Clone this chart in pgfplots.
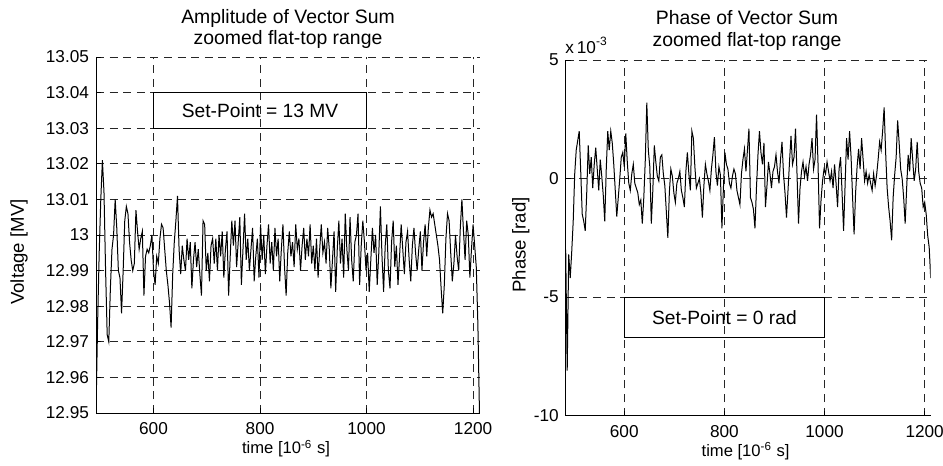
\documentclass[border=0pt]{standalone}
\usepackage{fontspec}
\setmainfont{Liberation Sans}
\usepackage{pgfplots}
\usepackage{pgfplotstable}
\pgfplotsset{compat=1.18}

\pgfplotstableread{
x y
492 12.950
495 12.975
498 12.995
501 13.010
504 13.021
507 13.012
510 12.990
513 12.972
516 12.970
519 12.985
522 12.996
525 13.000
528 13.010
531 13.002
534 12.990
537 12.988
540 12.978
543 12.990
546 13.004
549 13.008
552 13.006
555 12.998
558 12.993
561 12.990
564 12.992
567 13.007
570 13.001
573 12.996
576 12.999
579 13.001
582 12.983
585 12.994
588 12.996
591 12.995
594 12.997
597 13.000
600 12.990
603 12.986
606 12.994
609 12.992
612 12.999
615 13.003
618 13.002
621 12.996
624 12.990
627 12.986
630 12.981
633 12.974
636 12.989
639 12.998
642 13.004
645 13.011
648 12.996
651 12.989
654 12.997
657 12.993
660 12.990
663 12.999
666 12.993
669 12.998
672 12.985
675 12.993
678 12.998
681 12.991
684 12.996
687 12.989
690 12.983
693 13.004
696 13.003
699 12.990
702 12.995
705 12.987
708 12.997
711 12.999
714 12.992
717 12.999
720 12.990
723 13.000
726 12.994
729 13.001
732 12.988
735 12.996
738 13.001
741 12.983
744 12.994
747 13.004
750 12.997
753 13.004
756 12.991
759 12.998
762 13.005
765 12.986
768 12.996
771 13.006
774 12.993
777 12.999
780 12.990
783 12.996
786 13.002
789 12.987
792 12.994
795 12.999
798 12.988
801 13.003
804 12.993
807 13.000
810 12.989
813 12.997
816 13.003
819 12.992
822 12.998
825 12.990
828 13.002
831 12.994
834 12.999
837 12.987
840 12.996
843 13.003
846 12.991
849 12.983
852 12.995
855 13.001
858 12.994
861 12.998
864 12.991
867 13.003
870 12.996
873 12.999
876 12.990
879 12.997
882 13.002
885 12.993
888 12.999
891 12.994
894 13.003
897 12.992
900 12.997
903 12.990
906 12.999
909 12.988
912 12.996
915 13.003
918 12.995
921 12.998
924 12.992
927 13.002
930 12.996
933 12.985
936 12.993
939 13.001
942 12.984
945 12.996
948 13.004
951 12.992
954 12.999
957 12.988
960 13.006
963 12.996
966 12.990
969 13.005
972 12.993
975 12.987
978 12.998
981 13.000
984 13.006
987 12.986
990 12.997
993 13.004
996 12.998
999 12.990
1002 12.995
1005 12.984
1008 12.993
1011 13.002
1014 12.995
1017 13.000
1020 12.986
1023 12.995
1026 13.008
1029 12.994
1032 12.984
1035 12.997
1038 13.003
1041 12.990
1044 12.985
1047 12.998
1050 13.004
1053 12.991
1056 12.997
1059 12.986
1062 12.994
1065 13.003
1068 12.996
1071 12.989
1074 12.998
1077 13.001
1080 12.993
1083 12.987
1086 12.997
1089 13.002
1092 12.995
1095 12.990
1098 12.996
1101 13.001
1104 12.990
1107 12.998
1110 13.003
1113 12.994
1116 13.002
1119 13.007
1122 13.005
1125 13.006
1128 13.003
1131 13.000
1134 12.997
1137 12.993
1140 12.985
1143 12.978
1146 12.986
1149 12.999
1152 13.006
1155 13.004
1158 12.995
1161 12.987
1164 12.992
1167 13.000
1170 12.994
1173 12.990
1176 13.002
1179 13.010
1182 13.001
1185 12.993
1188 13.004
1191 13.000
1194 12.988
1197 12.996
1200 13.003
1203 12.997
1206 12.991
1209 12.975
1212 12.950
}\amplitude

\pgfplotstableread{
x y
483 -3.0
486 -8.1
489 -3.2
492 -4.2
495 -3.1
498 -1.8
501 0.2
504 1.2
507 1.6
510 2.0
513 0.3
516 -1.5
519 -1.8
522 -2.2
525 -0.6
528 1.4
531 0.2
534 0.9
537 -0.4
540 0.6
543 1.3
546 0.4
549 -0.5
552 0.8
555 0.1
558 -0.7
561 -1.8
564 0.4
567 2.0
570 1.2
573 2.0
576 1.5
579 0.6
582 -0.5
585 -1.6
588 -0.8
591 0.0
594 0.9
597 1.1
600 0.5
603 1.9
606 0.7
609 -0.2
612 -0.5
615 0.2
618 0.6
621 -0.2
624 -0.4
627 -0.6
630 -1.1
633 -0.9
636 -1.9
639 -0.8
642 0.8
645 3.2
648 1.2
651 0.5
654 -1.9
657 -0.5
660 1.4
663 0.7
666 0.1
669 -0.1
672 0.9
675 1.0
678 0.2
681 -0.3
684 -1.4
687 -2.5
690 -0.6
693 0.4
696 0.1
699 -0.6
702 -1.0
705 -0.2
708 0.0
711 0.3
714 -0.5
717 -0.8
720 -1.2
723 0.3
726 1.1
729 0.2
732 -0.5
735 2.0
738 1.7
741 0.5
744 -0.4
747 -0.2
750 0.0
753 -0.6
756 -1.65
759 -0.3
762 0.6
765 0.2
768 -0.1
771 -0.5
774 0.4
777 1.0
780 1.75
783 0.3
786 -0.3
789 0.5
792 0.15
795 -2.1
798 -0.4
801 1.1
804 0.6
807 0.4
810 -0.2
813 -0.4
816 0.1
819 0.4
822 0.2
825 -0.5
828 -0.8
831 -1.1
834 0.2
837 0.8
840 1.25
843 0.3
846 1.2
849 2.1
852 -0.8
855 -1.0
858 -1.3
861 -2.1
864 -0.4
867 1.0
870 2.0
873 1.1
876 0.6
879 1.5
882 -1.2
885 -0.3
888 0.7
891 0.2
894 -0.4
897 0.3
900 0.5
903 1.0
906 0.3
909 -0.2
912 0.8
915 1.55
918 0.2
921 -0.6
924 -1.65
927 -0.5
930 0.7
933 1.8
936 0.6
939 0.9
942 2.1
945 0.2
948 -1.9
951 -0.4
954 0.3
957 0.7
960 0.1
963 0.5
966 -0.1
969 0.6
972 1.0
975 1.7
978 0.4
981 0.8
984 2.7
987 0.6
990 -2.1
993 -0.9
996 -0.1
999 0.4
1002 0.2
1005 0.7
1008 0.3
1011 -0.1
1014 0.3
1017 -0.4
1020 0.6
1023 -0.2
1026 -1.2
1029 0.4
1032 0.9
1035 -0.6
1038 -2.2
1041 -0.3
1044 1.7
1047 0.8
1050 2.0
1053 0.9
1056 -0.8
1059 -2.35
1062 -0.6
1065 0.5
1068 1.25
1071 0.4
1074 1.7
1077 0.8
1080 -0.1
1083 0.3
1086 -0.2
1089 0.15
1092 -0.2
1095 -0.5
1098 0.2
1101 -0.3
1104 0.15
1107 0.8
1110 1.55
1113 1.2
1116 2.0
1119 3.0
1122 1.1
1125 -0.4
1128 -1.2
1131 -1.8
1134 -2.6
1137 -0.8
1140 0.15
1143 0.9
1146 2.45
1149 1.5
1152 0.4
1155 0.0
1158 -0.8
1161 -1.9
1164 -0.4
1167 1.0
1170 0.3
1173 1.7
1176 0.8
1179 -0.1
1182 0.4
1185 1.55
1188 0.3
1191 -0.2
1194 -0.4
1197 -1.2
1200 -1.0
1203 -1.5
1206 -2.4
1209 -2.9
1212 -4.2
}\phase

\pgfplotsset{
  mstyle/.style={
    anchor=south west, scale only axis,
    grid=major,
    major grid style={black!85, line width=0.4pt, dash pattern=on 4pt off 2.8pt},
    axis x line*=bottom, axis y line*=left,
    axis line style={black, line width=0.45pt},
    tick align=inside, major tick length=2.5pt,
    tick style={black, line width=0.45pt},
    ticklabel style={font=\fontsize{8.6}{10}\selectfont},
    xticklabel style={yshift=-1.3pt},
    xtick={600,800,1000,1200},
    xticklabels={600,800,1000,1200},
  }
}

\begin{document}
\begin{tikzpicture}
\path[use as bounding box] (0,0) rectangle (471.5pt,233pt);

% Left: amplitude
\begin{axis}[mstyle,
  at={(48pt,26.5pt)}, width=192pt, height=178pt,
  xmin=492, xmax=1213, ymin=12.95, ymax=13.05,
  ytick={12.95,12.96,12.97,12.98,12.99,13,13.01,13.02,13.03,13.04,13.05},
  yticklabels={12.95,12.96,12.97,12.98,12.99,13,13.01,13.02,13.03,13.04,13.05},
]
\addplot[black, line width=0.5pt, mark=none] table[x=x, y=y] {\amplitude};
\addplot[black, line width=0.5pt, mark=none] coordinates {(600,13.03) (1000,13.03) (1000,13.04) (600,13.04)} -- cycle;
\node[font=\fontsize{9.6}{11}\selectfont] at (axis cs:800,13.035) {Set-Point = 13 MV};
\end{axis}

% Right: phase
\begin{axis}[mstyle,
  at={(282.85pt,25.15pt)}, width=182.5pt, height=177.85pt,
  xmin=483, xmax=1212, ymin=-10, ymax=5,
  ytick={-10,-5,0,5},
  yticklabels={-10,-5,0,5},
]
\addplot[black, line width=0.5pt, mark=none] table[x=x, y=y] {\phase};
\addplot[black, line width=0.5pt, mark=none] coordinates {(600,-6.7) (1000,-6.7) (1000,-5) (600,-5)} -- cycle;
\node[font=\fontsize{9.6}{11}\selectfont] at (axis cs:800,-5.85) {Set-Point = 0 rad};
\end{axis}

% Titles
\node[anchor=base, font=\fontsize{9.7}{11}\selectfont] at (144pt,221.3pt) {Amplitude of Vector Sum};
\node[anchor=base, font=\fontsize{9.7}{11}\selectfont] at (144pt,210.8pt) {zoomed flat-top range};
\node[anchor=base, font=\fontsize{9.7}{11}\selectfont] at (373.5pt,220.5pt) {Phase of Vector Sum};
\node[anchor=base, font=\fontsize{9.7}{11}\selectfont] at (373.5pt,209.7pt) {zoomed flat-top range};

% Axis labels
\node[rotate=90, font=\fontsize{9.3}{11}\selectfont] at (9.5pt,107pt) {Voltage [MV]};
\node[rotate=90, font=\fontsize{9.3}{11}\selectfont] at (260.4pt,110.5pt) {Phase [rad]};
\node[anchor=base, font=\fontsize{8.3}{10}\selectfont] at (143pt,6pt) {time [10\textsuperscript{-6} s]};
\node[anchor=base, font=\fontsize{8.3}{10}\selectfont] at (372.8pt,4.7pt) {time [10\textsuperscript{-6} s]};

% exponent
\node[anchor=base west, inner sep=0pt, font=\fontsize{8.6}{10}\selectfont] at (282.5pt,206.3pt) {x\,10\textsuperscript{-3}};
\end{tikzpicture}
\end{document}
